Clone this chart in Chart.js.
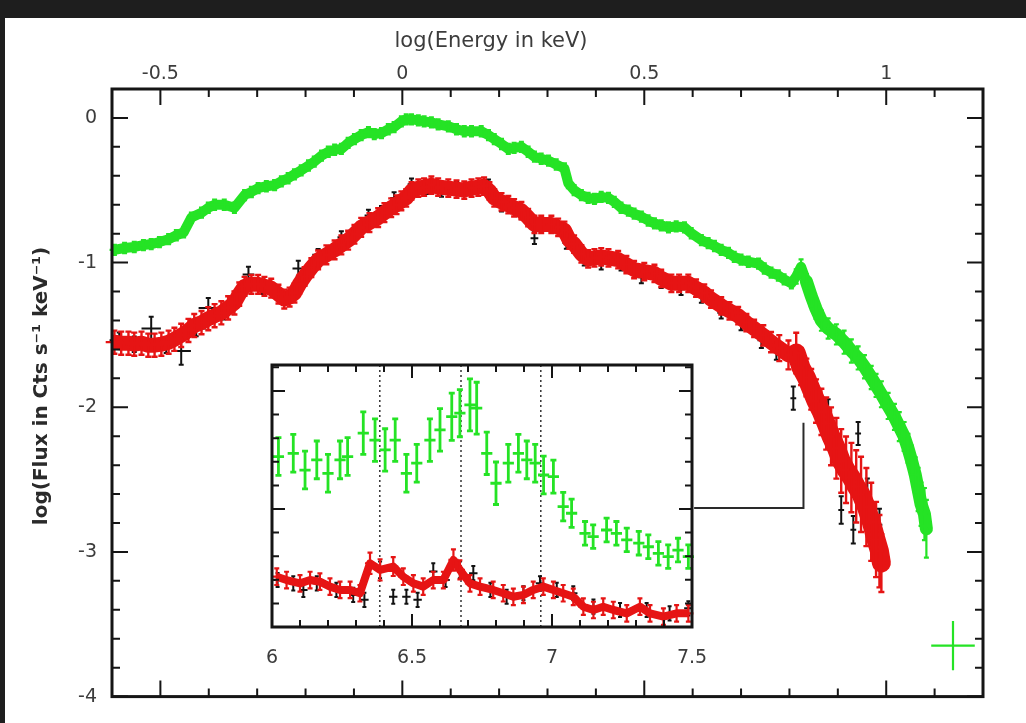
<!DOCTYPE html>
<html><head><meta charset="utf-8">
<script src="https://cdn.jsdelivr.net/npm/chart.js@4.4.1/dist/chart.umd.min.js"></script>
<style>
html,body{margin:0;padding:0;width:1026px;height:723px;overflow:hidden;background:#1e1e1e;}
#paper{position:absolute;left:5px;top:18px;right:0;bottom:0;background:#fff;}
#main{position:absolute;left:0;top:0;}
#inset{position:absolute;left:232px;top:345px;}
</style></head>
<body>
<div id="paper"></div>
<canvas id="main" width="1026" height="723"></canvas>
<canvas id="inset" width="500" height="340"></canvas>
<script>
// ---------- main panel data: log(E/keV) vs log(flux) ----------
const energyTickValues = [-0.5, 0, 0.5, 1];
const energyTickLabels = ['-0.5', '0', '0.5', '1'];
const fluxTickValues = [0, -1, -2, -3, -4];
const fluxTickLabels = ['0', '-1', '-2', '-3', '-4'];

const greenLogE = [
-0.595,-0.574,-0.554,-0.535,-0.519,-0.502,-0.483,-0.467,-0.452,-0.436,
-0.415,-0.401,-0.388,-0.368,-0.347,-0.326,-0.312,-0.298,-0.281,-0.264,
-0.250,-0.236,-0.223,-0.209,-0.194,-0.182,-0.167,-0.153,-0.140,-0.126,
-0.112,-0.099,-0.085,-0.070,-0.058,-0.043,-0.029,-0.017,-0.002,0.008,
0.019,0.033,0.045,0.060,0.074,0.095,0.112,0.128,0.143,0.163,
0.178,0.190,0.205,0.219,0.231,0.246,0.260,0.273,0.287,0.302,
0.318,0.335,0.343,0.355,0.370,0.384,0.397,0.411,0.426,0.438,
0.452,0.467,0.479,0.494,0.508,0.521,0.535,0.550,0.566,0.583,
0.597,0.618,0.632,0.645,0.659,0.674,0.686,0.700,0.715,0.736,
0.748,0.762,0.777,0.789,0.804,0.814,0.824,0.835,0.845,0.855,
0.866,0.880,0.897,0.913,0.928,0.942,0.955,0.969,0.979,0.990,
1.004,1.017,1.027,1.037,1.045,1.052,1.060,1.066,1.072,1.079,
1.083];
const greenLogF = [
-0.912,-0.899,-0.892,-0.879,-0.872,-0.858,-0.838,-0.811,-0.791,-0.689,
-0.655,-0.621,-0.600,-0.600,-0.621,-0.533,-0.512,-0.485,-0.472,-0.465,
-0.438,-0.417,-0.390,-0.363,-0.329,-0.302,-0.261,-0.234,-0.220,-0.214,
-0.173,-0.146,-0.119,-0.098,-0.112,-0.105,-0.078,-0.064,-0.024,-0.010,
-0.010,-0.017,-0.024,-0.031,-0.044,-0.058,-0.078,-0.092,-0.092,-0.092,
-0.119,-0.146,-0.180,-0.214,-0.207,-0.200,-0.234,-0.268,-0.282,-0.295,
-0.322,-0.349,-0.451,-0.499,-0.533,-0.553,-0.560,-0.546,-0.553,-0.580,
-0.621,-0.641,-0.661,-0.682,-0.709,-0.729,-0.743,-0.756,-0.750,-0.756,
-0.797,-0.845,-0.865,-0.885,-0.912,-0.933,-0.960,-0.980,-0.994,-1.007,
-1.041,-1.069,-1.089,-1.116,-1.143,-1.096,-1.028,-1.130,-1.231,-1.320,
-1.401,-1.455,-1.496,-1.550,-1.611,-1.659,-1.720,-1.794,-1.849,-1.910,
-1.991,-2.066,-2.134,-2.202,-2.283,-2.365,-2.466,-2.568,-2.670,-2.738,
-2.840];
const greenErrE = [
0.01,0.01,0.01,0.01,0.01,0.01,0.01,0.01,0.01,0.01,
0.01,0.01,0.01,0.01,0.01,0.01,0.01,0.01,0.01,0.01,
0.01,0.01,0.01,0.01,0.01,0.01,0.01,0.01,0.01,0.01,
0.01,0.01,0.01,0.01,0.01,0.01,0.01,0.01,0.01,0.01,
0.006,0.006,0.006,0.006,0.006,0.006,0.006,0.006,0.006,0.006,
0.006,0.006,0.006,0.006,0.006,0.006,0.006,0.006,0.006,0.006,
0.006,0.006,0.006,0.006,0.006,0.006,0.006,0.006,0.006,0.006,
0.006,0.006,0.006,0.006,0.006,0.006,0.006,0.006,0.006,0.006,
0.006,0.006,0.006,0.006,0.006,0.006,0.006,0.006,0.006,0.006,
0.006,0.006,0.006,0.006,0.006,0.004,0.004,0.004,0.004,0.004,
0.004,0.004,0.004,0.004,0.004,0.004,0.004,0.004,0.004,0.004,
0.004,0.004,0.004,0.004,0.004,0.004,0.004,0.004,0.004,0.004,
0.004];
const greenErrF = [
0.035,0.035,0.035,0.035,0.035,0.035,0.035,0.035,0.035,0.035,
0.035,0.035,0.035,0.035,0.035,0.035,0.035,0.035,0.035,0.035,
0.035,0.035,0.035,0.035,0.035,0.035,0.035,0.035,0.035,0.035,
0.035,0.035,0.035,0.035,0.035,0.035,0.035,0.035,0.035,0.035,
0.035,0.035,0.035,0.035,0.035,0.035,0.035,0.035,0.035,0.035,
0.035,0.035,0.035,0.035,0.035,0.035,0.035,0.035,0.035,0.035,
0.035,0.035,0.035,0.035,0.035,0.035,0.035,0.035,0.035,0.035,
0.035,0.035,0.035,0.035,0.035,0.035,0.035,0.035,0.035,0.035,
0.035,0.035,0.035,0.035,0.035,0.035,0.035,0.035,0.035,0.035,
0.035,0.035,0.035,0.035,0.035,0.05,0.05,0.05,0.07,0.07,
0.07,0.07,0.07,0.08,0.08,0.08,0.08,0.08,0.08,0.09,
0.09,0.09,0.1,0.1,0.1,0.1,0.12,0.15,0.15,0.18,
0.2];

const redLogE = [
-0.595,-0.581,-0.566,-0.554,-0.539,-0.525,-0.512,-0.498,-0.483,-0.471,
-0.457,-0.442,-0.430,-0.415,-0.401,-0.388,-0.374,-0.360,-0.347,-0.337,
-0.326,-0.312,-0.298,-0.285,-0.271,-0.256,-0.244,-0.233,-0.223,-0.213,
-0.202,-0.188,-0.174,-0.157,-0.140,-0.126,-0.112,-0.099,-0.085,-0.068,
-0.050,-0.037,-0.023,-0.012,-0.002,0.008,0.019,0.033,0.045,0.060,
0.074,0.095,0.112,0.128,0.143,0.157,0.169,0.180,0.190,0.205,
0.219,0.231,0.246,0.260,0.273,0.287,0.308,0.322,0.335,0.345,
0.355,0.370,0.384,0.397,0.411,0.426,0.446,0.463,0.479,0.500,
0.521,0.535,0.556,0.572,0.591,0.607,0.624,0.638,0.659,0.676,
0.694,0.711,0.727,0.746,0.762,0.779,0.798,0.814,0.824,0.835,
0.845,0.855,0.866,0.876,0.886,0.897,0.907,0.917,0.928,0.938,
0.948,0.959,0.969,0.979,0.986,0.990];
const redLogF = [
-1.550,-1.557,-1.557,-1.564,-1.557,-1.571,-1.571,-1.564,-1.550,-1.530,
-1.503,-1.469,-1.435,-1.415,-1.388,-1.367,-1.347,-1.313,-1.279,-1.218,
-1.164,-1.150,-1.150,-1.164,-1.177,-1.218,-1.252,-1.238,-1.211,-1.150,
-1.096,-1.035,-0.981,-0.946,-0.912,-0.878,-0.845,-0.804,-0.756,-0.723,
-0.689,-0.655,-0.621,-0.600,-0.573,-0.553,-0.505,-0.485,-0.478,-0.465,
-0.478,-0.485,-0.492,-0.499,-0.485,-0.478,-0.472,-0.505,-0.553,-0.580,
-0.600,-0.621,-0.641,-0.689,-0.736,-0.736,-0.736,-0.756,-0.777,-0.845,
-0.872,-0.940,-0.974,-0.967,-0.960,-0.967,-0.980,-1.014,-1.048,-1.062,
-1.075,-1.109,-1.143,-1.143,-1.143,-1.177,-1.211,-1.252,-1.299,-1.333,
-1.367,-1.415,-1.455,-1.503,-1.550,-1.591,-1.638,-1.625,-1.727,-1.794,
-1.876,-1.957,-2.032,-2.113,-2.201,-2.283,-2.371,-2.432,-2.486,-2.547,
-2.602,-2.690,-2.792,-2.914,-2.995,-3.077];
const redErrE = [
0.018,0.018,0.018,0.018,0.018,0.018,0.018,0.018,0.018,0.018,
0.018,0.018,0.012,0.012,0.012,0.012,0.012,0.012,0.012,0.012,
0.012,0.012,0.012,0.012,0.012,0.012,0.012,0.012,0.012,0.012,
0.008,0.008,0.008,0.008,0.008,0.008,0.008,0.008,0.008,0.008,
0.008,0.008,0.008,0.008,0.008,0.008,0.008,0.008,0.008,0.008,
0.008,0.008,0.008,0.008,0.008,0.008,0.008,0.008,0.008,0.008,
0.008,0.008,0.008,0.008,0.008,0.008,0.008,0.008,0.008,0.008,
0.008,0.008,0.008,0.008,0.008,0.008,0.008,0.008,0.008,0.008,
0.008,0.008,0.008,0.008,0.008,0.008,0.008,0.008,0.008,0.008,
0.008,0.008,0.008,0.008,0.008,0.008,0.008,0.008,0.008,0.008,
0.008,0.008,0.008,0.008,0.008,0.008,0.008,0.008,0.008,0.008,
0.008,0.008,0.008,0.008,0.008,0.008];
const redErrF = [
0.08,0.08,0.08,0.08,0.08,0.08,0.08,0.08,0.08,0.08,
0.08,0.08,0.08,0.08,0.08,0.08,0.08,0.08,0.08,0.08,
0.065,0.065,0.065,0.065,0.065,0.065,0.065,0.065,0.065,0.065,
0.065,0.065,0.065,0.065,0.065,0.065,0.065,0.065,0.065,0.065,
0.065,0.065,0.065,0.065,0.065,0.06,0.06,0.06,0.06,0.06,
0.06,0.06,0.06,0.06,0.06,0.06,0.06,0.06,0.06,0.06,
0.06,0.06,0.06,0.06,0.06,0.06,0.06,0.06,0.06,0.06,
0.06,0.06,0.06,0.06,0.06,0.06,0.06,0.06,0.06,0.06,
0.06,0.06,0.06,0.06,0.06,0.06,0.06,0.06,0.06,0.06,
0.06,0.06,0.06,0.07,0.07,0.09,0.1,0.14,0.12,0.13,
0.14,0.15,0.16,0.18,0.2,0.21,0.22,0.23,0.24,0.25,
0.26,0.27,0.27,0.26,0.25,0.2];

const blackLogE = [
-0.585,-0.554,-0.519,-0.488,-0.457,-0.426,-0.401,-0.370,-0.337,-0.318,
-0.287,-0.250,-0.215,-0.174,-0.126,-0.095,-0.070,-0.043,-0.017,0.019,
0.050,0.081,0.112,0.143,0.178,0.205,0.246,0.273,0.308,0.339,
0.376,0.411,0.452,0.494,0.535,0.576,0.618,0.659,0.700,0.742,
0.773,0.808,0.845,0.880,0.907,0.932,0.942,0.961,0.986,0.983];
const blackLogF = [
-1.537,-1.564,-1.455,-1.571,-1.611,-1.455,-1.313,-1.353,-1.211,-1.082,
-1.177,-1.231,-1.041,-0.946,-0.824,-0.797,-0.675,-0.648,-0.553,-0.458,
-0.485,-0.505,-0.478,-0.505,-0.465,-0.607,-0.661,-0.831,-0.750,-0.865,
-0.980,-1.007,-1.014,-1.102,-1.136,-1.184,-1.238,-1.347,-1.414,-1.537,
-1.618,-1.937,-1.862,-2.025,-2.710,-2.846,-2.181,-2.588,-2.812,-2.995];
const blackErrE = [
0.02,0.02,0.02,0.02,0.02,0.02,0.02,0.012,0.012,0.012,
0.012,0.012,0.012,0.012,0.008,0.008,0.008,0.008,0.008,0.008,
0.008,0.008,0.008,0.008,0.008,0.008,0.008,0.008,0.008,0.008,
0.008,0.008,0.008,0.008,0.008,0.008,0.008,0.008,0.008,0.008,
0.008,0.006,0.006,0.006,0.006,0.006,0.006,0.006,0.006,0.006];
const blackErrF = [
0.054,0.054,0.08,0.054,0.095,0.054,0.068,0.04,0.04,0.054,
0.04,0.04,0.054,0.04,0.04,0.04,0.04,0.04,0.04,0.04,
0.04,0.04,0.04,0.04,0.04,0.04,0.04,0.04,0.04,0.04,
0.04,0.04,0.04,0.04,0.04,0.04,0.04,0.04,0.054,0.054,
0.054,0.08,0.068,0.08,0.095,0.095,0.08,0.095,0.11,0.11];

// resolution cross (bottom right) and inset connector
const resolutionLogE = [1.138];
const resolutionLogF = [-3.647];
const resolutionErrE = [0.045];
const resolutionErrF = [0.17];
const connectorLogE = [0.603, 0.829, 0.829];
const connectorLogF = [-2.697, -2.697, -2.107];

// ---------- inset data: energy (keV) 6 - 7.5 ----------
const insetTickValues = [6, 6.5, 7, 7.5];
const insetTickLabels = ['6', '6.5', '7', '7.5'];
const insetLineEnergies = [6.385, 6.675, 6.96];

const insetGreenE = [6.023,6.076,6.118,6.16,6.20,6.243,6.27,6.326,6.368,6.404,
6.44,6.48,6.517,6.564,6.60,6.642,6.671,6.707,6.731,6.767,
6.80,6.844,6.88,6.91,6.94,6.97,7.005,7.04,7.07,7.118,
7.147,7.195,7.23,7.267,7.31,7.344,7.38,7.415,7.45,7.487];
const insetGreenF = [7.22,7.36,6.65,7.08,6.51,7.08,7.22,8.21,7.92,7.5,
7.92,6.51,6.94,7.92,8.35,8.91,9.06,9.41,9.27,7.36,
6.09,6.94,7.36,7.08,6.94,6.44,6.37,5.10,4.82,3.97,
3.83,4.11,3.97,3.69,3.55,3.40,3.12,2.98,3.26,2.98];
const insetGreenErrE = [0.02,0.02,0.02,0.02,0.02,0.02,0.02,0.02,0.02,0.02,
0.02,0.02,0.02,0.02,0.02,0.02,0.02,0.02,0.02,0.02,
0.02,0.02,0.02,0.02,0.02,0.02,0.02,0.02,0.02,0.02,
0.02,0.02,0.02,0.02,0.02,0.02,0.02,0.02,0.02,0.02];
const insetGreenErrF = [0.8,0.8,0.8,0.8,0.8,0.8,0.8,0.9,0.9,0.9,
0.9,0.8,0.8,0.9,0.9,1.0,1.0,1.1,1.1,0.9,
0.9,0.8,0.8,0.8,0.8,0.8,0.7,0.6,0.6,0.5,
0.5,0.5,0.5,0.5,0.5,0.5,0.5,0.5,0.5,0.5];

const insetRedE = [6.017,6.052,6.10,6.136,6.171,6.207,6.243,6.279,6.314,6.35,
6.386,6.433,6.469,6.505,6.54,6.576,6.612,6.648,6.671,6.707,
6.743,6.79,6.826,6.862,6.898,6.933,6.969,7.005,7.04,7.076,
7.112,7.148,7.183,7.219,7.267,7.314,7.35,7.398,7.445,7.487];
const insetRedF = [2.13,1.99,1.85,1.99,1.92,1.71,1.57,1.57,1.43,2.70,
2.42,2.56,2.13,1.85,1.71,1.99,1.99,2.84,2.42,1.85,
1.71,1.57,1.43,1.28,1.36,1.57,1.71,1.57,1.43,1.28,
0.86,0.72,0.86,0.72,0.58,0.86,0.58,0.44,0.58,0.58];
const insetRedErrE = [0.018,0.018,0.018,0.018,0.018,0.018,0.018,0.018,0.018,0.018,
0.018,0.018,0.018,0.018,0.018,0.018,0.018,0.018,0.018,0.018,
0.018,0.018,0.018,0.018,0.018,0.018,0.018,0.018,0.018,0.018,
0.018,0.018,0.018,0.018,0.018,0.018,0.018,0.018,0.018,0.018];
const insetRedErrF = [0.35,0.35,0.35,0.35,0.35,0.35,0.35,0.35,0.35,0.45,
0.45,0.4,0.35,0.35,0.35,0.35,0.35,0.45,0.4,0.35,
0.35,0.35,0.35,0.35,0.35,0.35,0.35,0.35,0.35,0.35,
0.35,0.35,0.35,0.35,0.35,0.35,0.35,0.35,0.35,0.35];

const insetBlackE = [6.02,6.076,6.112,6.16,6.23,6.29,6.33,6.386,6.433,6.48,
6.52,6.576,6.62,6.671,6.719,6.78,6.838,6.898,6.957,7.017,
7.076,7.148,7.243,7.338,7.42,7.487];
const insetBlackF = [1.99,1.85,1.57,1.85,1.57,1.36,1.15,2.42,1.28,1.28,
1.15,2.35,1.99,2.42,2.28,1.57,1.28,1.43,1.85,1.57,
1.43,0.86,0.72,0.72,0.58,0.79];
const insetBlackErrE = [0.015,0.015,0.015,0.015,0.015,0.015,0.015,0.015,0.015,0.015,
0.015,0.015,0.015,0.015,0.015,0.015,0.015,0.015,0.015,0.015,
0.015,0.015,0.015,0.015,0.015,0.015];
const insetBlackErrF = [0.3,0.3,0.3,0.3,0.3,0.3,0.3,0.35,0.3,0.3,
0.3,0.35,0.3,0.35,0.3,0.3,0.3,0.3,0.3,0.3,
0.3,0.3,0.3,0.3,0.3,0.3];

// ---------- styling ----------
const GREEN = '#25e325';
const RED = '#e61414';
const BLACK = '#121212';
const LABEL = '#3c3c3c';
const FONT = 'DejaVu Sans';

function pts(xs, ys) { return xs.map((x, i) => ({ x: x, y: ys[i] })); }

// error bars drawn through the chart scales
const errorBarPlugin = {
  id: 'errorBars',
  afterDatasetDraw(chart, args) {
    const ds = chart.data.datasets[args.index];
    if (!ds.errX) return;
    const meta = args.meta;
    const xs = chart.scales[meta.xAxisID], ys = chart.scales[meta.yAxisID];
    const ctx = chart.ctx;
    const cap = ds.errCap || 0;
    ctx.save();
    ctx.strokeStyle = ds.errColor;
    ctx.lineWidth = ds.errWidth;
    ctx.beginPath();
    ds.data.forEach((p, i) => {
      const px = xs.getPixelForValue(p.x), py = ys.getPixelForValue(p.y);
      const x0 = xs.getPixelForValue(p.x - ds.errX[i]), x1 = xs.getPixelForValue(p.x + ds.errX[i]);
      const y0 = ys.getPixelForValue(p.y - ds.errY[i]), y1 = ys.getPixelForValue(p.y + ds.errY[i]);
      ctx.moveTo(x0, py); ctx.lineTo(x1, py);
      ctx.moveTo(px, y0); ctx.lineTo(px, y1);
      if (cap) {
        ctx.moveTo(px - cap, y0); ctx.lineTo(px + cap, y0);
        ctx.moveTo(px - cap, y1); ctx.lineTo(px + cap, y1);
      }
    });
    ctx.stroke();
    ctx.restore();
  }
};

// frame + inward tick marks
const frameTicksPlugin = {
  id: 'frameTicks',
  beforeDatasetsDraw(chart, args, o) {
    if (!o.fillWhite) return;
    const a = chart.chartArea, ctx = chart.ctx;
    ctx.save(); ctx.fillStyle = '#ffffff';
    ctx.fillRect(a.left, a.top, a.right - a.left, a.bottom - a.top);
    ctx.restore();
  },
  afterDatasetsDraw(chart, args, o) {
    const ctx = chart.ctx, a = chart.chartArea;
    const xs = chart.scales.x, ys = chart.scales.y;
    ctx.save();
    ctx.strokeStyle = o.color;
    ctx.lineWidth = o.tickWidth;
    ctx.beginPath();
    const xt = (list, len) => list.forEach(v => {
      const p = xs.getPixelForValue(v);
      ctx.moveTo(p, a.top); ctx.lineTo(p, a.top + len);
      ctx.moveTo(p, a.bottom); ctx.lineTo(p, a.bottom - len);
    });
    const yt = (list, len) => list.forEach(v => {
      const p = ys.getPixelForValue(v);
      ctx.moveTo(a.left, p); ctx.lineTo(a.left + len, p);
      ctx.moveTo(a.right, p); ctx.lineTo(a.right - len, p);
    });
    xt(o.xMinor, o.minorLen); xt(o.xMajor, o.majorLen);
    yt(o.yMinor, o.minorLen); yt(o.yMajor, o.majorLen);
    ctx.stroke();
    ctx.lineWidth = o.frameWidth;
    ctx.strokeRect(a.left, a.top, a.right - a.left, a.bottom - a.top);
    ctx.restore();
  }
};

const titlesPlugin = {
  id: 'titles',
  afterDraw(chart) {
    const ctx = chart.ctx;
    ctx.save();
    ctx.fillStyle = LABEL;
    ctx.textAlign = 'center';
    ctx.textBaseline = 'middle';
    ctx.font = '21px "' + FONT + '"';
    ctx.fillText('log(Energy in keV)', 491, 42);
    ctx.translate(42, 386);
    ctx.rotate(-Math.PI / 2);
    ctx.font = 'bold 20px "' + FONT + '"';
    ctx.fillStyle = '#2a2a2a';
    ctx.fillText('log(Flux in Cts s\u207B\u00B9 keV\u207B\u00B9)', 0, 0);
    ctx.restore();
  }
};

// tick positions (layout only)
const mainXMinor = [], mainXMajor = [];
for (let k = -6; k <= 12; k++) (k % 5 === 0 ? mainXMajor : mainXMinor).push(k / 10);
const mainYMinor = [], mainYMajor = [];
for (let k = -20; k <= 1; k++) (k % 5 === 0 ? mainYMajor : mainYMinor).push(k / 5);
const insXMinor = [], insXMajor = [];
for (let k = 60; k <= 75; k++) (k % 5 === 0 ? insXMajor : insXMinor).push(k / 10);
const insYMinor = [], insYMajor = [];
for (let k = 0; k <= 11; k++) (k % 5 === 0 ? insYMajor : insYMinor).push(k);

new Chart(document.getElementById('main'), {
  type: 'scatter',
  data: { datasets: [
    { label: 'connector', data: pts(connectorLogE, connectorLogF), showLine: true,
      borderColor: '#2a2a2a', borderWidth: 2, pointRadius: 0, order: 6 },
    { label: 'green', data: pts(greenLogE, greenLogF), showLine: true,
      borderColor: GREEN, borderWidth: 10, borderJoinStyle: 'round', borderCapStyle: 'round',
      segment: { borderWidth: c => (c.p0.parsed.x > 0.83 ? 13 : 10) },
      pointRadius: 0, errX: greenErrE, errY: greenErrF, errColor: GREEN, errWidth: 2.2, errCap: 2.5, order: 5 },
    { label: 'black', data: pts(blackLogE, blackLogF), showLine: false,
      pointRadius: 0, errX: blackErrE, errY: blackErrF, errColor: BLACK, errWidth: 2, errCap: 2.5, order: 4 },
    { label: 'red', data: pts(redLogE, redLogF), showLine: true,
      borderColor: RED, borderWidth: 15, borderJoinStyle: 'round', borderCapStyle: 'round',
      segment: { borderWidth: c => (c.p0.parsed.x > 0.8 ? 19 : 15) },
      pointRadius: 0, errX: redErrE, errY: redErrF, errColor: RED, errWidth: 2.4, errCap: 3, order: 3 },
    { label: 'resolution', data: pts(resolutionLogE, resolutionLogF), showLine: false,
      pointRadius: 0, errX: resolutionErrE, errY: resolutionErrF, errColor: GREEN, errWidth: 2.2, errCap: 0, order: 1 }
  ]},
  options: {
    responsive: false, animation: false, events: [],
    layout: { padding: { left: 0, top: 0, right: 43, bottom: 15 } },
    plugins: {
      legend: { display: false }, tooltip: { enabled: false },
      frameTicks: { xMinor: mainXMinor, xMajor: mainXMajor, yMinor: mainYMinor, yMajor: mainYMajor,
        minorLen: 8, majorLen: 16, tickWidth: 2, frameWidth: 3, color: '#151515', fillWhite: false }
    },
    scales: {
      x: { type: 'linear', position: 'top', min: -0.6, max: 1.2,
        afterBuildTicks: s => { s.ticks = energyTickValues.map(v => ({ value: v })); },
        afterFit: s => { s.height = 89; },
        grid: { display: false, drawTicks: false }, border: { display: false },
        ticks: { padding: 4, autoSkip: false, maxRotation: 0, color: LABEL,
          font: { family: FONT, size: 19 },
          callback: v => energyTickLabels[energyTickValues.indexOf(v)] } },
      y: { type: 'linear', position: 'left', min: -4, max: 0.2,
        afterBuildTicks: s => { s.ticks = fluxTickValues.map(v => ({ value: v })); },
        afterFit: s => { s.width = 112; },
        grid: { display: false, drawTicks: false }, border: { display: false },
        ticks: { padding: 15, autoSkip: false, color: LABEL,
          font: { family: FONT, size: 19 },
          callback: v => fluxTickLabels[fluxTickValues.indexOf(v)] } }
    }
  },
  plugins: [frameTicksPlugin, errorBarPlugin, titlesPlugin]
});

const lineDatasets = insetLineEnergies.map(e => ({
  label: 'line ' + e, data: [{ x: e, y: 0 }, { x: e, y: 11.1 }], showLine: true,
  borderColor: '#333', borderWidth: 1.5, borderDash: [2, 3], pointRadius: 0, order: 9
}));

new Chart(document.getElementById('inset'), {
  type: 'scatter',
  data: { datasets: lineDatasets.concat([
    { label: 'green', data: pts(insetGreenE, insetGreenF), showLine: false, pointRadius: 0,
      errX: insetGreenErrE, errY: insetGreenErrF, errColor: GREEN, errWidth: 2.8, errCap: 3, order: 5 },
    { label: 'black', data: pts(insetBlackE, insetBlackF), showLine: false, pointRadius: 0,
      errX: insetBlackErrE, errY: insetBlackErrF, errColor: BLACK, errWidth: 2, errCap: 2, order: 4 },
    { label: 'red', data: pts(insetRedE, insetRedF), showLine: true,
      borderColor: RED, borderWidth: 8, borderJoinStyle: 'round', pointRadius: 0,
      errX: insetRedErrE, errY: insetRedErrF, errColor: RED, errWidth: 2.2, errCap: 2.5, order: 3 }
  ])},
  options: {
    responsive: false, animation: false, events: [],
    layout: { padding: { left: 40, top: 20, right: 40, bottom: 0 } },
    plugins: {
      legend: { display: false }, tooltip: { enabled: false },
      frameTicks: { xMinor: insXMinor, xMajor: insXMajor, yMinor: insYMinor, yMajor: insYMajor,
        minorLen: 7, majorLen: 13, tickWidth: 2, frameWidth: 3, color: '#151515', fillWhite: true }
    },
    scales: {
      x: { type: 'linear', position: 'bottom', min: 6, max: 7.5,
        afterBuildTicks: s => { s.ticks = insetTickValues.map(v => ({ value: v })); },
        afterFit: s => { s.height = 58; },
        grid: { display: false, drawTicks: false }, border: { display: false },
        ticks: { padding: 20, autoSkip: false, maxRotation: 0, color: LABEL,
          font: { family: FONT, size: 19 },
          callback: v => insetTickLabels[insetTickValues.indexOf(v)] } },
      y: { type: 'linear', display: false, min: 0, max: 11.1 }
    }
  },
  plugins: [frameTicksPlugin, errorBarPlugin]
});
</script>
</body></html>
